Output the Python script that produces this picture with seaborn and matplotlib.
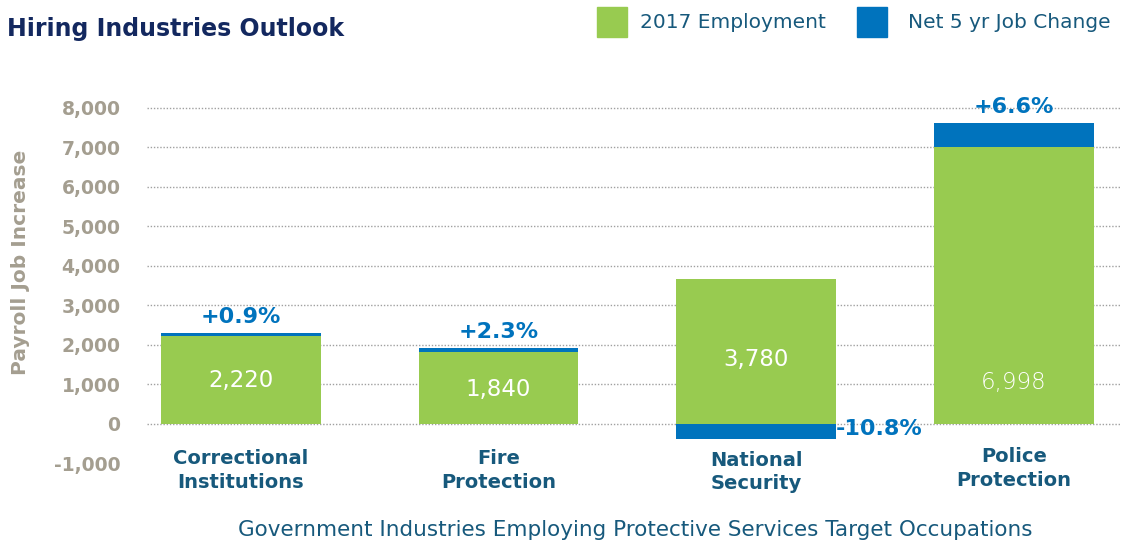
import pandas as pd
import matplotlib.pyplot as plt
import seaborn as sns

# Values
industries = ['Correctional\nInstitutions', 'Fire\nProtection', 'National\nSecurity', 'Police\nProtection']
employment = [2210, 1810, 3660, 6998]          # green bar heights
job_change = [75, 95, -380, 610]               # blue segment (net 5 yr change)
employment_labels = ['2,220', '1,840', '3,780', '6,998']
change_labels = ['+0.9%', '+2.3%', '-10.8%', '+6.6%']
y_ticks = [-1000, 0, 1000, 2000, 3000, 4000, 5000, 6000, 7000, 8000]

green = '#98cb50'
blue = '#0073bd'
navy = '#13285f'
teal = '#17597c'
gray = '#a49e90'

sns.set_theme(style='white')
plt.rcParams['font.family'] = ['DejaVu Sans']

df = pd.DataFrame({'industry': industries, 'employment': employment, 'change': job_change})
# blue bar sits on top of green for gains, hangs below zero for losses
df['blue_top'] = [e + c if c > 0 else c for e, c in zip(df['employment'], df['change'])]

fig = plt.figure(figsize=(11.21, 5.44), dpi=100)
ax = fig.add_axes([147 / 1121, 1 - 463 / 544, 974 / 1121, 375 / 544])

sns.barplot(data=df, x='industry', y='blue_top', color=blue, width=0.62,
            saturation=1, linewidth=0, ax=ax, zorder=3)
sns.barplot(data=df, x='industry', y='employment', color=green, width=0.62,
            saturation=1, linewidth=0, ax=ax, zorder=4)

ax.set_ylim(-1000, 8500)
ax.set_xlim(-0.364, 3.415)
for t in y_ticks[1:]:
    ax.axhline(t, color='#a0a0a0', lw=1, ls=(0, (1, 1.3)), zorder=1)

ax.set_yticks(y_ticks)
ax.set_yticklabels([f'{v:,}' for v in y_ticks], fontsize=13.5, fontweight='bold', color=gray)
ax.tick_params(axis='y', length=0, pad=19)
ax.set_xticks(range(len(industries)))
ax.set_xticklabels([])
ax.tick_params(axis='x', length=0)
ax.set_xlabel('')
ax.set_ylabel('Payroll Job Increase', fontsize=14.5, fontweight='bold', color=gray)
ax.yaxis.set_label_coords(-0.12, 0.536)
for s in ax.spines.values():
    s.set_visible(False)

# category names sit just under the zero line
cat_y = [-1190, -1190, -1230, -1140]
for i, (name, y) in enumerate(zip(industries, cat_y)):
    ax.text(i, y, name, ha='center', va='center', color=teal, fontsize=14,
            fontweight='bold', linespacing=1.3, clip_on=False)

# labels inside the green bars
label_y = [1080, 870, 1620, 1040]
for i, (lab, y) in enumerate(zip(employment_labels, label_y)):
    ax.text(i, y, lab, ha='center', va='center', color='white', fontsize=16.5,
            fontweight='medium' if i < 3 else 'light', zorder=5)

# percent change labels
for i, (lab, top, c) in enumerate(zip(change_labels, df['blue_top'], job_change)):
    if c > 0:
        ax.text(i, top + 150, lab, ha='center', va='bottom', color=blue,
                fontsize=16, fontweight='bold', zorder=5)
    else:
        ax.text(i + 0.31, -150, lab, ha='left', va='center', color=blue,
                fontsize=16, fontweight='bold', zorder=5)

fig.text(7 / 1121, 1 - 29 / 544, 'Hiring Industries Outlook', fontsize=17,
         fontweight='bold', color=navy, va='center', ha='left')

# legend drawn as patches in figure coords
fig.patches.append(plt.Rectangle((597 / 1121, 1 - 37 / 544), 30 / 1121, 30 / 544,
                                 transform=fig.transFigure, color=green))
fig.text(640 / 1121, 1 - 23 / 544, '2017 Employment', fontsize=14.5, color=teal, va='center')
fig.patches.append(plt.Rectangle((857 / 1121, 1 - 37 / 544), 30 / 1121, 30 / 544,
                                 transform=fig.transFigure, color=blue))
fig.text(908 / 1121, 1 - 23 / 544, 'Net 5 yr Job Change', fontsize=14.5, color=teal, va='center')

fig.text(635 / 1121, 1 - 530 / 544,
         'Government Industries Employing Protective Services Target Occupations',
         fontsize=15.5, color=teal, ha='center', va='center')

fig.savefig('out.png', dpi=100)
